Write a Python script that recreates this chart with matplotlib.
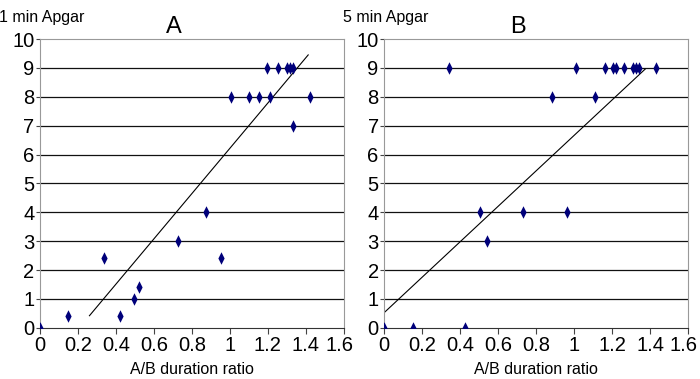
import matplotlib.pyplot as plt
import matplotlib.transforms as mtransforms
import numpy as np

# panel A: 1 min Apgar vs A/B duration ratio
ratioA = [0.0, 0.15, 0.338, 0.42, 0.498, 0.521, 0.728, 0.877, 0.955,
          1.194, 1.255, 1.304, 1.316, 1.332,
          1.006, 1.103, 1.156, 1.213, 1.424, 1.333]
apgar1 = [0, 0.42, 2.43, 0.42, 1, 1.42, 3, 4, 2.43,
          9, 9, 9, 9, 9,
          8, 8, 8, 8, 8, 7]
fitA_x = [0.261, 1.413]
fitA_y = [0.42, 9.45]

# panel B: 5 min Apgar vs A/B duration ratio
ratioB = [0.0, 0.153, 0.423, 0.503, 0.54, 0.733, 0.963,
          0.340, 1.012, 1.163, 1.202, 1.219, 1.265, 1.311, 1.323, 1.344, 1.433,
          0.882, 1.111]
apgar5 = [0, 0, 0, 4, 3, 4, 4,
          9, 9, 9, 9, 9, 9, 9, 9, 9, 9,
          8, 8]
fitB_x = [0.0, 1.374]
fitB_y = [0.53, 8.96]

xticks = [0, 0.2, 0.4, 0.6, 0.8, 1, 1.2, 1.4, 1.6]
xticklabels = ['0', '0.2', '0.4', '0.6', '0.8', '1', '1.2', '1.4', '1.6']
yticks = list(range(11))

fig = plt.figure(figsize=(7, 3.79), dpi=100)
plt.rcParams['font.family'] = ['Liberation Sans', 'DejaVu Sans']

# narrow diamond, roughly half as wide as tall
diamond = [(0, 1), (0.5, 0), (0, -1), (-0.5, 0), (0, 1)]

panels = [
    ([0.057, 0.135, 0.434, 0.762], ratioA, apgar1, fitA_x, fitA_y, 'A', '1 min Apgar'),
    ([0.549, 0.135, 0.434, 0.762], ratioB, apgar5, fitB_x, fitB_y, 'B', '5 min Apgar'),
]

for rect, xs, ys, fx, fy, title, ylab in panels:
    ax = fig.add_axes(rect)
    ax.set_xlim(0, 1.6)
    ax.set_ylim(0, 10)
    for y in yticks[1:-1]:
        ax.axhline(y, color='#111111', lw=0.9, zorder=1)
    ax.plot(fx, fy, color='black', lw=0.8, zorder=2)
    ax.plot(xs, ys, linestyle='none', marker=diamond, ms=9, color='#00007a',
            markeredgewidth=0, zorder=3)
    ax.set_xticks(xticks)
    ax.set_xticklabels(xticklabels, fontsize=14.5)
    ax.set_yticks(yticks)
    ax.set_yticklabels([str(t) for t in yticks], fontsize=14.5)
    ax.tick_params(axis='x', direction='out', length=4, pad=2, color='#444444')
    ax.tick_params(axis='y', direction='out', length=3, pad=1, color='#444444')
    for s in ['top', 'right', 'left']:
        ax.spines[s].set_color('#999999')
    ax.spines['bottom'].set_color('#333333')
    ax.set_xlabel('A/B duration ratio', fontsize=11.5, labelpad=5)
    ax.set_title(title, fontsize=17, pad=4, x=0.44)
    ax.text(-0.135, 1.075, ylab, transform=ax.transAxes, fontsize=11.5,
            ha='left', va='center')
    # nudge the last x label left a little so it stays inside the figure
    last = ax.get_xticklabels()[-1]
    last.set_transform(last.get_transform() +
                       mtransforms.ScaledTranslation(-3 / 72, 0, fig.dpi_scale_trans))

fig.savefig('out.png', dpi=100)
